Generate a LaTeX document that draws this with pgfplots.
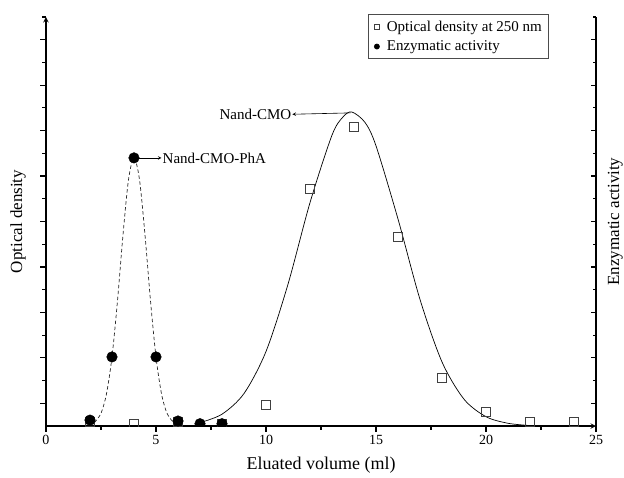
\documentclass[border=0pt]{standalone}
\usepackage{fontspec}
\setmainfont{Liberation Serif}
\usepackage{pgfplots}
\pgfplotsset{compat=1.18}

% open squares: optical density at 250 nm
\pgfplotstableread{
x y
2 0.2
4 0.1
6 0.2
8 0.1
10 0.92
12 10.43
14 13.16
16 8.32
18 2.11
20 0.62
22 0.2
24 0.2
}\od
% filled circles: enzymatic activity
\pgfplotstableread{
x y
2 0.26
3 3.04
4 11.8
5 3.04
6 0.22
7 0.1
8 0.1
}\enz

\begin{document}
\begin{tikzpicture}
\pgfplotsset{
  every axis/.append style={
    scale only axis, width=550pt, height=409pt,
    xmin=0, xmax=25, ymin=0, ymax=18,
    /pgf/number format/assume math mode=true,
    axis line style={line width=1.4pt,-},
    major tick length=5.5pt, minor tick length=3.5pt,
    every tick/.style={line width=1.2pt, black},
    ytick={1,3,...,17}, minor ytick={2,4,...,18},
    yticklabels={},
    ylabel style={font=\fontsize{17}{19}\selectfont},
  },
}
\begin{axis}[
  axis x line=bottom, axis y line=left,
  tick align=outside,
  xtick={0,5,...,25}, minor xtick={2.5,7.5,...,22.5},
  ticklabel style={font=\fontsize{14}{16}\selectfont},
  xlabel={Eluated volume (ml)},
  xlabel style={font=\fontsize{18}{20}\selectfont, at={(axis description cs:0.5,-0.095)}, anchor=center},
  ylabel={Optical density},
  ylabel style={at={(axis description cs:-0.051,0.5)}, anchor=center},
  clip marker paths=true,
  legend style={at={(rel axis cs:0.913,1.007)}, anchor=north east,
    draw=black!70, line width=0.6pt, font=\fontsize{15}{17}\selectfont,
    inner xsep=4pt, inner ysep=4.5pt, row sep=4pt},
  legend cell align=left,
  legend image code/.code={\path (0,0) (0.42cm,0); \draw[#1, only marks] plot coordinates {(0.15cm,0cm)};},
  legend image post style={mark size=2.6pt},
]
\addplot[forget plot, smooth, black!85, line width=0.7pt, dash pattern=on 3.5pt off 2.5pt] coordinates {
  (2.2,0.15) (2.5,0.56) (2.75,1.42) (3,3.04) (3.25,5.51) (3.5,8.41) (3.75,10.84) (4,11.8)
  (4.25,10.84) (4.5,8.41) (4.75,5.51) (5,3.04) (5.25,1.42) (5.5,0.56) (5.8,0.15)};
\addplot[forget plot, smooth, black, line width=0.7pt] coordinates {
  (7,0.15) (8,0.52) (9,1.43) (10,3.28) (11,6.24) (12,9.83) (13,12.8) (13.5,13.6) (13.9,13.82)
  (14.5,13.36) (15,12.33) (16,9.11) (17,5.57) (18,2.82) (19,1.18) (20,0.41) (21,0.12) (22,0.02)};
\addplot[only marks, mark=square, mark size=4.5pt, mark options={draw=black!75, line width=0.7pt}] table {\od};
\addplot[only marks, mark=*, mark size=5.3pt, mark options={fill=black, draw=black}] table {\enz};
\legend{Optical density at 250 nm, Enzymatic activity}
\draw[-stealth, line width=0.6pt] (axis cs:13.85,13.78) -- (axis cs:11.2,13.72);
\node[anchor=east, font=\fontsize{15}{17}\selectfont, inner sep=1pt] at (axis cs:11.2,13.72) {Nand-CMO};
\draw[-stealth, line width=0.6pt] (axis cs:4.25,11.8) -- (axis cs:5.25,11.8);
\node[anchor=west, font=\fontsize{15}{17}\selectfont, inner sep=1pt] at (axis cs:5.25,11.8) {Nand-CMO-PhA};
\end{axis}
\begin{axis}[
  axis x line=none, axis y line*=right,
  tick align=inside, xtick=\empty,
  ylabel={Enzymatic activity},
  ylabel style={at={(axis description cs:1.035,0.5)}, anchor=center},
]
\end{axis}
\pgfresetboundingbox
\path (-46pt,-51pt) rectangle (578pt,426pt);
\end{tikzpicture}
\end{document}
